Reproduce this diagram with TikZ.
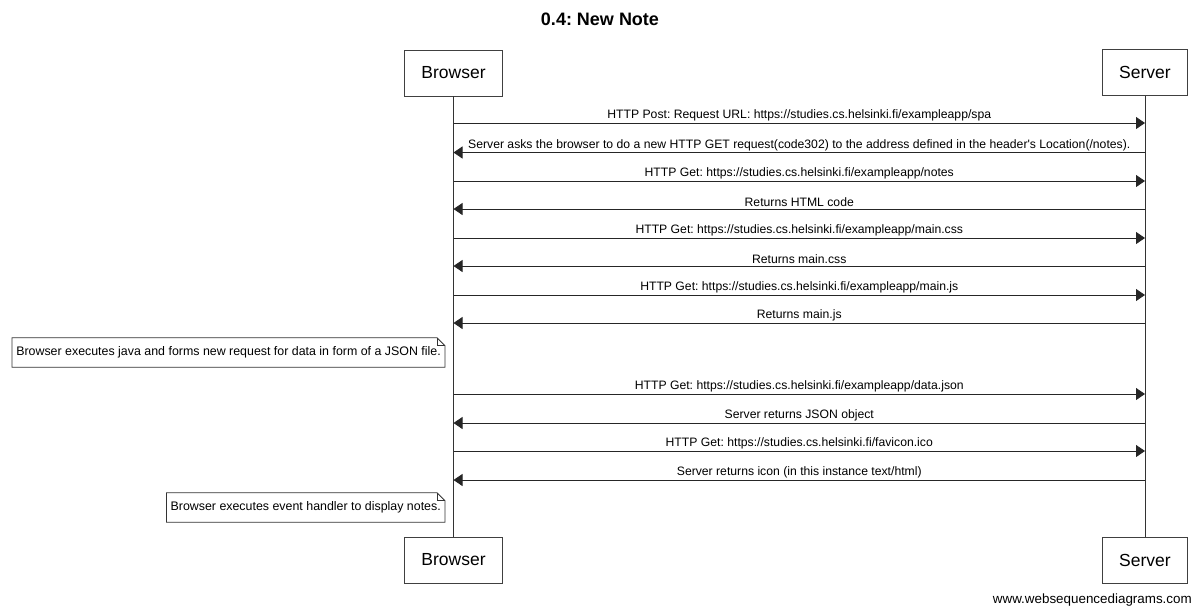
\documentclass[tikz,border=0pt]{standalone}
\usepackage{fontspec}
\setmainfont{Liberation Sans}
\usetikzlibrary{arrows.meta}
\frenchspacing
\begin{document}
\begin{tikzpicture}[x=1pt,y=-1pt,
  actor/.style={draw=black!75, line width=0.9pt, fill=white, inner xsep=16.5pt,
    minimum height=46pt, font=\fontsize{17.5}{20}\selectfont},
  lifeline/.style={draw=black!80, line width=0.9pt},
  msg/.style={draw=black!85, line width=0.9pt, -{Triangle[length=9pt,width=12pt]}},
  lbl/.style={above=0.5pt, inner sep=1pt, font=\fontsize{12.2}{14}\selectfont},
  notetext/.style={inner xsep=4pt, inner ysep=0pt, minimum height=29pt,
    font=\fontsize{12.4}{14}\selectfont},
  noteline/.style={draw=black!80, line width=0.8pt}
]
\useasboundingbox (0,0) rectangle (1200,614);

% title
\node[font=\bfseries\fontsize{18}{21}\selectfont] (title) at (600,19.5) {0.4: New Note};

% participants
\node[actor] (bt) at (453.5,73) {Browser};
\node[actor] (st) at (1145,72.5) {Server};
\node[actor] (bb) at (453.5,560) {Browser};
\node[actor] (sb) at (1145,560) {Server};

% lifelines
\draw[lifeline] (bt.south) -- (bb.north);
\draw[lifeline] (st.south) -- (sb.north);

% message anchor points on the lifelines
\foreach \i/\y in {1/123,2/152.5,3/181,4/209,5/238,6/266,7/295,8/323,9/394,10/423,11/451,12/480}{
  \coordinate (b\i) at (453.5,\y);
  \coordinate (s\i) at (1145,\y);
}

% messages
\draw[msg] (b1) -- (s1) node[lbl, midway] {HTTP Post: Request URL: https://studies.cs.helsinki.fi/exampleapp/spa};
\draw[msg] (s2) -- (b2) node[lbl, midway] {Server asks the browser to do a new HTTP GET request(code302) to the address defined in the header\textquotesingle s Location(/notes).};
\draw[msg] (b3) -- (s3) node[lbl, midway] {HTTP Get: https://studies.cs.helsinki.fi/exampleapp/notes};
\draw[msg] (s4) -- (b4) node[lbl, midway] {Returns HTML code};
\draw[msg] (b5) -- (s5) node[lbl, midway] {HTTP Get: https://studies.cs.helsinki.fi/exampleapp/main.css};
\draw[msg] (s6) -- (b6) node[lbl, midway] {Returns main.css};
\draw[msg] (b7) -- (s7) node[lbl, midway] {HTTP Get: https://studies.cs.helsinki.fi/exampleapp/main.js};
\draw[msg] (s8) -- (b8) node[lbl, midway] {Returns main.js};
\draw[msg] (b9) -- (s9) node[lbl, midway] {HTTP Get: https://studies.cs.helsinki.fi/exampleapp/data.json};
\draw[msg] (s10) -- (b10) node[lbl, midway] {Server returns JSON object};
\draw[msg] (b11) -- (s11) node[lbl, midway] {HTTP Get: https://studies.cs.helsinki.fi/favicon.ico};
\draw[msg] (s12) -- (b12) node[lbl, midway] {Server returns icon (in this instance text/html)};

% notes with a folded top-right corner
\node[notetext, anchor=east] (n1) at (445,352.5) {Browser executes java and forms new request for data in form of a JSON file.};
\node[notetext, anchor=east] (n2) at (445,507.5) {Browser executes event handler to display notes.};
\foreach \n in {n1,n2}{
  \draw[noteline] (\n.north west) -- ([xshift=-8pt]\n.north east) -- ([yshift=-8pt]\n.north east)
    -- (\n.south east) -- (\n.south west) -- cycle;
  \draw[noteline] ([xshift=-8pt]\n.north east) -- ([xshift=-8pt,yshift=-8pt]\n.north east) -- ([yshift=-8pt]\n.north east);
}

% footer
\node[anchor=base east, inner sep=0pt, font=\fontsize{13.4}{15}\selectfont] (footer) at (1192,603) {www.websequencediagrams.com};
\end{tikzpicture}
\end{document}
